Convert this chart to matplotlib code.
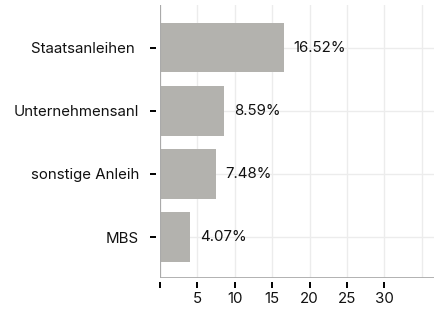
import numpy as np
import matplotlib
matplotlib.use("Agg")
import matplotlib.pyplot as plt

plt.rcParams['font.family'] = ['Inter', 'DejaVu Sans']

categories = ['Staatsanleihen ', 'Unternehmensanl', 'sonstige Anleih', 'MBS']
values = [16.52, 8.59, 7.48, 4.07]
xticks = [0, 5, 10, 15, 20, 25, 30]
xticklabels = ['', '5', '10', '15', '20', '25', '30']
gridx = [5, 10, 15, 20, 25, 30, 35]

fig = plt.figure(figsize=(4.43, 3.09), dpi=100)
ax = fig.add_axes([160 / 443, 31 / 309, 274 / 443, 273 / 309])

y_pos = np.arange(len(categories))
ax.barh(y_pos, values, height=0.78, color='#b3b2ae', zorder=2)

for y, v in zip(y_pos, values):
    ax.text(v + 1.3, y, f'{v:.2f}%', va='center', ha='left', fontsize=10.8, color='#111111', zorder=3)

# grid
for gx in gridx:
    ax.axvline(gx, color='#ececec', lw=1, zorder=0)
for y in y_pos:
    ax.axhline(y, color='#ececec', lw=1, zorder=0)

ax.set_xlim(0, 36.65)
ax.set_ylim(3.65, -0.68)

# gray axis lines at data edge, ticks offset slightly
ax.axvline(0, color='#aaaaaa', lw=1.6, zorder=4)
ax.axhline(3.65, color='#aaaaaa', lw=2, zorder=4)
for s in ax.spines.values():
    s.set_visible(False)
ax.spines['left'].set_position(('outward', 3))
ax.spines['bottom'].set_position(('outward', 3))

ax.set_yticks(y_pos)
ax.set_yticklabels(categories, fontsize=10.8, color='#111111')
ax.set_xticks(xticks)
ax.set_xticklabels(xticklabels, fontsize=10.8, color='#111111')
ax.tick_params(axis='y', length=4, width=1.4, color='black', pad=8)
ax.tick_params(axis='x', length=4, width=1.4, color='black', pad=3)

fig.savefig('out.png', dpi=100)
